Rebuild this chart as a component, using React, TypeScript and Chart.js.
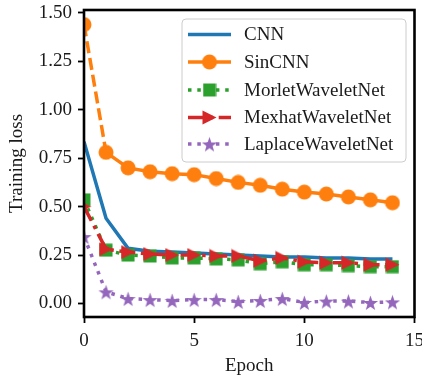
import React, { useEffect, useRef } from "react";
import { Chart, registerables } from "chart.js";

Chart.register(...registerables);

const epochs = [0, 1, 2, 3, 4, 5, 6, 7, 8, 9, 10, 11, 12, 13, 14];
const cnnLoss = [0.835, 0.44, 0.285, 0.27, 0.265, 0.26, 0.255, 0.25, 0.245, 0.24, 0.24, 0.235, 0.235, 0.23, 0.23];
const sinCnnLoss = [1.44, 0.78, 0.7, 0.68, 0.67, 0.665, 0.645, 0.625, 0.61, 0.59, 0.575, 0.565, 0.55, 0.535, 0.52];
const morletLoss = [0.535, 0.275, 0.25, 0.245, 0.235, 0.235, 0.23, 0.225, 0.205, 0.215, 0.2, 0.2, 0.195, 0.19, 0.19];
const mexhatLoss = [0.5, 0.28, 0.265, 0.255, 0.25, 0.25, 0.245, 0.245, 0.22, 0.235, 0.215, 0.21, 0.21, 0.2, 0.2];
const laplaceLoss = [0.345, 0.06, 0.025, 0.02, 0.015, 0.02, 0.02, 0.01, 0.015, 0.025, 0.005, 0.012, 0.012, 0.005, 0.008];

const seriesNames = ["CNN", "SinCNN", "MorletWaveletNet", "MexhatWaveletNet", "LaplaceWaveletNet"];
const yTicks = [0, 0.25, 0.5, 0.75, 1.0, 1.25, 1.5];
const xTicks = [0, 5, 10, 15];

const FONT = "'Liberation Serif', 'DejaVu Serif', serif";
const TEXT = "#1a1a1a";

function makeMarker(kind: string, color: string, size: number): HTMLCanvasElement {
  const c = document.createElement("canvas");
  c.width = size;
  c.height = size;
  const g = c.getContext("2d") as CanvasRenderingContext2D;
  const m = size / 2;
  g.fillStyle = color;
  g.beginPath();
  if (kind === "circle") {
    g.arc(m, m, m - 0.5, 0, Math.PI * 2);
  } else if (kind === "square") {
    g.rect(0.5, 0.5, size - 1, size - 1);
  } else if (kind === "triangle") {
    g.moveTo(size - 0.5, m);
    g.lineTo(0.5, 0.5);
    g.lineTo(0.5, size - 0.5);
    g.closePath();
  } else if (kind === "star") {
    const R = m - 0.5;
    const r = R * 0.4;
    for (let i = 0; i < 10; i++) {
      const a = -Math.PI / 2 + (i * Math.PI) / 5;
      const rr = i % 2 === 0 ? R : r;
      const px = m + rr * Math.cos(a);
      const py = m + 1 + rr * Math.sin(a);
      if (i === 0) g.moveTo(px, py);
      else g.lineTo(px, py);
    }
    g.closePath();
  }
  g.fill();
  return c;
}

export default function App() {
  const ref = useRef<HTMLCanvasElement | null>(null);

  useEffect(() => {
    if (!ref.current) return;
    const blue = "#1f77b4";
    const orange = "#ff7f0e";
    const green = "#2ca02c";
    const red = "#d62728";
    const purple = "#9467bd";

    const mCircle = makeMarker("circle", orange, 16);
    const mSquare = makeMarker("square", green, 14);
    const mTri = makeMarker("triangle", red, 15);
    const mStar = makeMarker("star", purple, 17);

    const toPts = (arr: number[]) => arr.map((v, i) => ({ x: epochs[i], y: v }));

    const legendItems = [
      { name: seriesNames[0], color: blue, dash: [] as number[], marker: null as HTMLCanvasElement | null },
      { name: seriesNames[1], color: orange, dash: [], marker: mCircle },
      { name: seriesNames[2], color: green, dash: [3.5, 5.8], marker: mSquare },
      { name: seriesNames[3], color: red, dash: [16, 5.6, 3.5, 5.6], marker: mTri },
      { name: seriesNames[4], color: purple, dash: [3.5, 5.8], marker: mStar },
    ];

    const framePlugin = {
      id: "frameAndLegend",
      afterDraw(chart: any) {
        const { ctx, chartArea } = chart;
        ctx.save();
        ctx.strokeStyle = "#000";
        ctx.lineWidth = 2.6;
        ctx.strokeRect(chartArea.left, chartArea.top, chartArea.right - chartArea.left, chartArea.bottom - chartArea.top);

        // legend
        const lx = 182, ly = 19, lw = 224, lh = 143, rad = 4;
        ctx.beginPath();
        ctx.moveTo(lx + rad, ly);
        ctx.lineTo(lx + lw - rad, ly);
        ctx.quadraticCurveTo(lx + lw, ly, lx + lw, ly + rad);
        ctx.lineTo(lx + lw, ly + lh - rad);
        ctx.quadraticCurveTo(lx + lw, ly + lh, lx + lw - rad, ly + lh);
        ctx.lineTo(lx + rad, ly + lh);
        ctx.quadraticCurveTo(lx, ly + lh, lx, ly + lh - rad);
        ctx.lineTo(lx, ly + rad);
        ctx.quadraticCurveTo(lx, ly, lx + rad, ly);
        ctx.closePath();
        ctx.fillStyle = "rgba(255,255,255,0.8)";
        ctx.fill();
        ctx.strokeStyle = "#cccccc";
        ctx.lineWidth = 1;
        ctx.stroke();

        const rowsY = [34.5, 62, 90, 117.5, 144];
        ctx.font = `19px ${FONT}`;
        ctx.textBaseline = "middle";
        ctx.textAlign = "left";
        legendItems.forEach((it, i) => {
          const y = rowsY[i];
          ctx.save();
          ctx.strokeStyle = it.color;
          ctx.lineWidth = 3.5;
          ctx.lineCap = "butt";
          ctx.setLineDash(it.dash);
          ctx.beginPath();
          ctx.moveTo(188, y);
          ctx.lineTo(231, y);
          ctx.stroke();
          ctx.restore();
          if (it.marker) {
            ctx.drawImage(it.marker, 209.5 - it.marker.width / 2, y - it.marker.height / 2);
          }
          ctx.fillStyle = TEXT;
          ctx.fillText(it.name, 244, y + 1);
        });
        ctx.restore();
      },
    };

    const chart = new Chart(ref.current, {
      type: "line",
      data: {
        datasets: [
          {
            label: seriesNames[0],
            data: toPts(cnnLoss),
            borderColor: blue,
            backgroundColor: blue,
            borderWidth: 3.5,
            pointRadius: 0,
            pointHoverRadius: 0,
            order: 5,
            clip: 0,
          },
          {
            label: seriesNames[1],
            data: toPts(sinCnnLoss),
            borderColor: orange,
            backgroundColor: orange,
            borderWidth: 3.5,
            pointStyle: mCircle,
            order: 4,
            clip: 0,
            segment: {
              borderDash: (c: any) => (c.p0DataIndex === 0 ? [12, 5] : undefined),
            },
          },
          {
            label: seriesNames[2],
            data: toPts(morletLoss),
            borderColor: green,
            backgroundColor: green,
            borderWidth: 3.5,
            borderDash: [3.5, 5.8],
            pointStyle: mSquare,
            order: 3,
            clip: 0,
          },
          {
            label: seriesNames[3],
            data: toPts(mexhatLoss),
            borderColor: red,
            backgroundColor: red,
            borderWidth: 3.5,
            borderDash: [16, 5.6, 3.5, 5.6],
            pointStyle: mTri,
            order: 2,
            clip: 0,
          },
          {
            label: seriesNames[4],
            data: toPts(laplaceLoss),
            borderColor: purple,
            backgroundColor: purple,
            borderWidth: 3.5,
            borderDash: [3.5, 5.8],
            pointStyle: mStar,
            order: 1,
            clip: 0,
          },
        ] as any,
      },
      options: {
        animation: false,
        responsive: false,
        events: [],
        layout: { padding: { left: 0, right: 7, top: 10, bottom: 0 } },
        elements: { line: { tension: 0 } },
        plugins: {
          legend: { display: false },
          tooltip: { enabled: false },
        },
        scales: {
          x: {
            type: "linear",
            min: 0,
            max: 15,
            afterBuildTicks: (s: any) => {
              s.ticks = xTicks.map((v) => ({ value: v }));
            },
            afterFit: (s: any) => {
              s.height = 60;
              s.paddingLeft = 0;
              s.paddingRight = 0;
            },
            ticks: {
              color: TEXT,
              font: { family: FONT, size: 19 },
              padding: 7,
              maxRotation: 0,
              autoSkip: false,
              callback: (v: any) => String(v),
            },
            grid: {
              drawOnChartArea: false,
              drawTicks: true,
              tickLength: 6,
              tickWidth: 1.8,
              tickColor: "#000",
            },
            border: { display: false },
            title: {
              display: true,
              text: "Epoch",
              color: TEXT,
              font: { family: FONT, size: 19 },
              padding: { top: 0, bottom: 0 },
            },
          },
          y: {
            type: "linear",
            min: -0.07,
            max: 1.515,
            afterBuildTicks: (s: any) => {
              s.ticks = yTicks.map((v) => ({ value: v }));
            },
            afterFit: (s: any) => {
              s.width = 84;
              s.paddingTop = 0;
              s.paddingBottom = 0;
            },
            ticks: {
              color: TEXT,
              font: { family: FONT, size: 19 },
              padding: 6,
              autoSkip: false,
              callback: (v: any) => Number(v).toFixed(2),
            },
            grid: {
              drawOnChartArea: false,
              drawTicks: true,
              tickLength: 6,
              tickWidth: 1.8,
              tickColor: "#000",
            },
            border: { display: false },
            title: {
              display: true,
              text: "Training loss",
              color: TEXT,
              font: { family: FONT, size: 19 },
              padding: { top: 6, bottom: 0 },
            },
          },
        },
      } as any,
      plugins: [framePlugin],
    });
    return () => chart.destroy();
  }, []);

  return (
    <div style={{ position: "fixed", left: 0, top: 0, width: 422, height: 377, background: "#fff" }}>
      <canvas ref={ref} width={422} height={377} style={{ display: "block", width: 422, height: 377 }} />
    </div>
  );
}
